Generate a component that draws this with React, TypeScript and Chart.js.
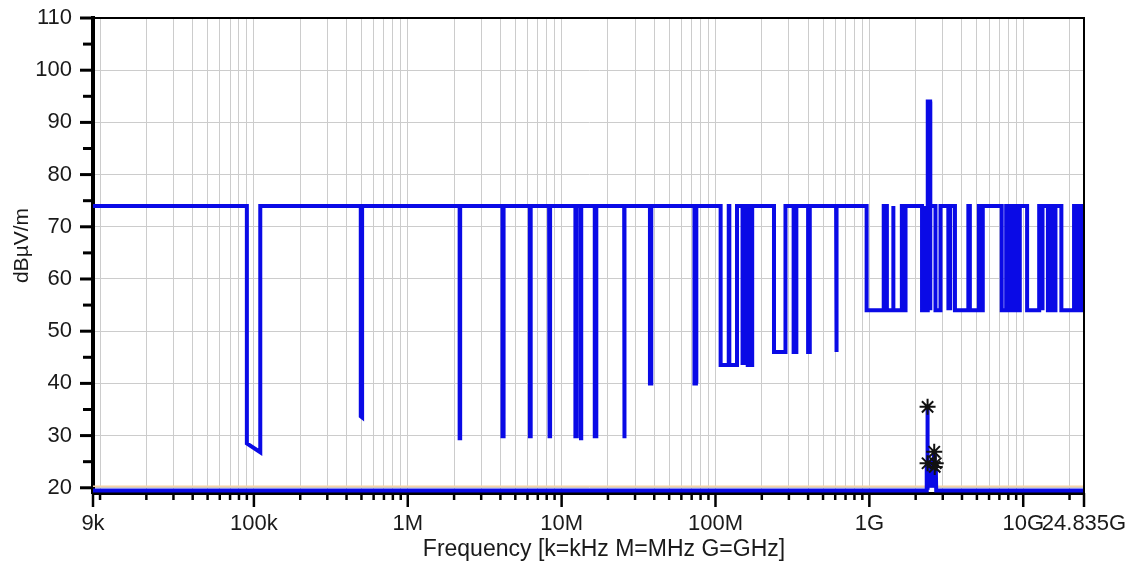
import { useEffect, useRef } from "react";
import { Chart, registerables } from "chart.js";

Chart.register(...registerables);

// ---------- data ----------
// Frequency axis (Hz)
const xMin = 9e3;
const xMax = 24.835e9;
const xMajorTicks = [9e3, 1e5, 1e6, 1e7, 1e8, 1e9, 1e10, 24.835e9];
const xTickLabels = ["9k", "100k", "1M", "10M", "100M", "1G", "10G", "24.835G"];
const decadeStarts = [1e4, 1e5, 1e6, 1e7, 1e8, 1e9, 1e10];
const minorMultipliers = [1, 2, 3, 4, 5, 6, 7, 8, 9];

// Level axis (dBµV/m)
const yMin = 19;
const yMax = 110;
const yTickValues = [20, 30, 40, 50, 60, 70, 80, 90, 100, 110];
const yMinorTicks = [25, 35, 45, 55, 65, 75, 85, 95, 105];

// Limit line: general level and the notched bands (MHz)
const generalLimit = 74;
const bandStartMHz = [
  0.09, 0.495, 2.1735, 4.125, 4.17725, 4.20725, 6.215, 6.26775, 6.31175, 8.291,
  8.362, 8.37625, 8.41425, 12.29, 12.51975, 12.57675, 13.36, 16.42, 16.69475,
  16.80425, 25.5, 37.5, 73, 74.8, 108, 123, 149.9, 156.52475, 156.7, 162.0125,
  167.72, 240, 322, 399.9, 608, 960, 1300, 1435, 1645.5, 1660, 1718.8, 2200,
  2310, 2400, 2483.5, 2690, 3260, 3332, 3345.8, 3600, 4500, 5350, 7250, 8025,
  9000, 9300, 10600, 13250, 14470, 15350, 17700, 22010, 23600,
];
const bandEndMHz = [
  0.11, 0.505, 2.1905, 4.128, 4.17775, 4.20775, 6.218, 6.26825, 6.31225, 8.294,
  8.366, 8.38675, 8.41475, 12.293, 12.52025, 12.57725, 13.41, 16.423, 16.69525,
  16.80475, 25.67, 38.25, 74.6, 75.2, 121.94, 138, 150.05, 156.52525, 156.9,
  167.17, 173.2, 285, 335.4, 410, 614, 1240, 1427, 1626.5, 1646.5, 1710, 1722.2,
  2300, 2390, 2483.5, 2500, 2900, 3267, 3339, 3358, 4400, 5150, 5460, 7750,
  8500, 9200, 9500, 12700, 13400, 14500, 16200, 21400, 23120, 24000,
];
const bandLevelStart = [
  28.5, 33.7, 29.5, 29.5, 29.5, 29.5, 29.5, 29.5, 29.5, 29.5, 29.5, 29.5, 29.5,
  29.5, 29.5, 29.5, 29.5, 29.5, 29.5, 29.5, 29.5, 40, 40, 40, 43.5, 43.5, 43.5,
  43.5, 43.5, 43.5, 43.5, 46, 46, 46, 46, 54, 54, 54, 54, 54, 54, 54, 54, 94, 54,
  54, 54, 54, 54, 54, 54, 54, 54, 54, 54, 54, 54, 54, 54, 54, 54, 54, 54,
];
const bandLevelEnd = [
  26.8, 33.5, 29.5, 29.5, 29.5, 29.5, 29.5, 29.5, 29.5, 29.5, 29.5, 29.5, 29.5,
  29.5, 29.5, 29.5, 29.5, 29.5, 29.5, 29.5, 29.5, 40, 40, 40, 43.5, 43.5, 43.5,
  43.5, 43.5, 43.5, 43.5, 46, 46, 46, 46, 54, 54, 54, 54, 54, 54, 54, 54, 94, 54,
  54, 54, 54, 54, 54, 54, 54, 54, 54, 54, 54, 54, 54, 54, 54, 54, 54, 54,
];

// Measured trace (Hz, dBµV/m)
const measFreqHz = [
  9e3, 2.34e9, 2.36e9, 2.37e9, 2.38e9, 2.39e9, 2.4e9, 2.41e9, 2.43e9, 2.45e9,
  2.48e9, 2.5e9, 2.53e9, 2.56e9, 2.59e9, 2.62e9, 2.64e9, 2.66e9, 2.68e9, 2.7e9,
  2.72e9, 24.835e9,
];
const measLevel = [
  19.5, 19.5, 24.5, 20, 24.5, 35.5, 21, 24.7, 20, 25, 20.5, 24.5, 20, 25.5, 20,
  25, 26.9, 20.5, 24, 24.7, 19.5, 19.5,
];

// Second faint trace
const faintFreqHz = [9e3, 24.835e9];
const faintLevel = [20.3, 20.3];

// Peak markers (asterisks)
const markerFreqHz = [2.39e9, 2.64e9, 2.39e9, 2.7e9, 2.66e9];
const markerLevel = [35.5, 26.9, 24.7, 24.7, 24.0];

const xTitle = "Frequency [k=kHz M=MHz G=GHz]";
const yTitle = "dBµV/m";

// ---------- styling ----------
const FONT = 'Arial, "Liberation Sans", sans-serif';
const TEXT = "#1a1a1a";
const GRID = "#cccccc";
const BLUE = "#0a0ae6";

export default function App() {
  const ref = useRef<HTMLCanvasElement | null>(null);

  useEffect(() => {
    const canvas = ref.current;
    if (!canvas) return;

    const xTicks: number[] = [xMin];
    decadeStarts.forEach((d) =>
      minorMultipliers.forEach((m) => {
        const v = d * m;
        if (v > xMin && v < xMax) xTicks.push(v);
      })
    );
    xTicks.push(xMax);

    const isMajorX = (v: number) =>
      xMajorTicks.some((t) => Math.abs(v - t) / t < 1e-6);
    const labelX = (v: number) => {
      const i = xMajorTicks.findIndex((t) => Math.abs(v - t) / t < 1e-6);
      return i >= 0 ? xTickLabels[i] : "";
    };

    const limitPoints: { x: number; y: number }[] = [{ x: xMin, y: generalLimit }];
    bandStartMHz.forEach((s, i) => {
      const e = bandEndMHz[i];
      limitPoints.push({ x: s * 1e6, y: generalLimit });
      limitPoints.push({ x: s * 1e6, y: bandLevelStart[i] });
      limitPoints.push({ x: e * 1e6, y: bandLevelEnd[i] });
      limitPoints.push({ x: e * 1e6, y: generalLimit });
    });
    limitPoints.push({ x: xMax, y: generalLimit });

    const measPoints = measFreqHz.map((f, i) => ({ x: f, y: measLevel[i] }));
    const faintPoints = faintFreqHz.map((f, i) => ({ x: f, y: faintLevel[i] }));
    const markerPoints = markerFreqHz.map((f, i) => ({ x: f, y: markerLevel[i] }));

    const decor = {
      id: "decor",
      afterDraw(chart: any) {
        const { ctx, chartArea: a, scales } = chart;
        ctx.save();
        ctx.strokeStyle = "#000";
        // top & right frame
        ctx.lineWidth = 2;
        ctx.beginPath();
        ctx.moveTo(a.left, a.top);
        ctx.lineTo(a.right, a.top);
        ctx.lineTo(a.right, a.bottom);
        ctx.stroke();
        // x tick marks
        ctx.lineWidth = 2.5;
        xTicks.forEach((v) => {
          const x = scales.x.getPixelForValue(v);
          const len = isMajorX(v) ? 14 : 7;
          ctx.beginPath();
          ctx.moveTo(x, a.bottom);
          ctx.lineTo(x, a.bottom + len);
          ctx.stroke();
        });
        // y tick marks
        ctx.lineWidth = 3;
        yTickValues.forEach((v) => {
          const y = scales.y.getPixelForValue(v);
          ctx.beginPath();
          ctx.moveTo(a.left - 13, y);
          ctx.lineTo(a.left, y);
          ctx.stroke();
        });
        yMinorTicks.forEach((v) => {
          const y = scales.y.getPixelForValue(v);
          ctx.beginPath();
          ctx.moveTo(a.left - 10, y);
          ctx.lineTo(a.left, y);
          ctx.stroke();
        });
        // axis titles
        ctx.fillStyle = TEXT;
        ctx.textAlign = "center";
        ctx.textBaseline = "middle";
        ctx.font = `23px ${FONT}`;
        ctx.fillText(xTitle, (a.left + a.right) / 2 + 15.5, a.bottom + 57);
        ctx.font = `21px ${FONT}`;
        ctx.translate(a.left - 71, (a.top + a.bottom) / 2 - 10);
        ctx.rotate(-Math.PI / 2);
        ctx.fillText(yTitle, 0, 0);
        ctx.restore();
      },
    };

    const chart = new Chart(canvas, {
      type: "line",
      data: {
        datasets: [
          {
            data: markerPoints,
            showLine: false,
            pointStyle: "star",
            pointRadius: 8,
            pointBorderWidth: 2,
            pointBorderColor: "#111",
            pointBackgroundColor: "#111",
            order: 0,
          },
          {
            data: limitPoints,
            borderColor: BLUE,
            borderWidth: 4,
            pointRadius: 0,
            tension: 0,
            order: 1,
          },
          {
            data: measPoints,
            borderColor: BLUE,
            borderWidth: 4,
            pointRadius: 0,
            tension: 0,
            order: 2,
          },
          {
            data: faintPoints,
            borderColor: "#f6d2a6",
            borderWidth: 1.5,
            pointRadius: 0,
            order: 3,
          },
        ],
      },
      options: {
        animation: false,
        responsive: false,
        maintainAspectRatio: false,
        parsing: false as any,
        normalized: true,
        layout: { padding: { top: 18, right: 45, left: 0, bottom: 0 } },
        plugins: {
          legend: { display: false },
          tooltip: { enabled: false },
        },
        scales: {
          x: {
            type: "logarithmic",
            min: xMin,
            max: xMax,
            afterBuildTicks: (s: any) => {
              s.ticks = xTicks.map((v) => ({ value: v, major: isMajorX(v) }));
            },
            afterFit: (s: any) => {
              s.height = 74;
              s.paddingLeft = 0;
              s.paddingRight = 0;
            },
            ticks: {
              autoSkip: false,
              maxRotation: 0,
              minRotation: 0,
              padding: 18,
              color: TEXT,
              font: { family: FONT, size: 22 },
              callback: (v: any) => labelX(Number(v)),
            },
            grid: { color: GRID, lineWidth: 1, drawTicks: false },
            border: { display: true, color: "#000", width: 3 },
          },
          y: {
            type: "linear",
            min: yMin,
            max: yMax,
            afterBuildTicks: (s: any) => {
              s.ticks = yTickValues.map((v) => ({ value: v }));
            },
            afterFit: (s: any) => {
              s.width = 93;
              s.paddingTop = 0;
              s.paddingBottom = 0;
            },
            ticks: {
              padding: 21,
              color: TEXT,
              font: { family: FONT, size: 22 },
              callback: (v: any) => String(v),
            },
            grid: { color: GRID, lineWidth: 1, drawTicks: false },
            border: { display: true, color: "#000", width: 4 },
          },
        },
      },
      plugins: [decor],
    } as any);

    return () => chart.destroy();
  }, []);

  return (
    <div
      style={{
        position: "absolute",
        left: 0,
        top: 0,
        width: 1129,
        height: 567,
        background: "#fff",
      }}
    >
      <canvas ref={ref} width={1129} height={567} style={{ display: "block" }} />
    </div>
  );
}
